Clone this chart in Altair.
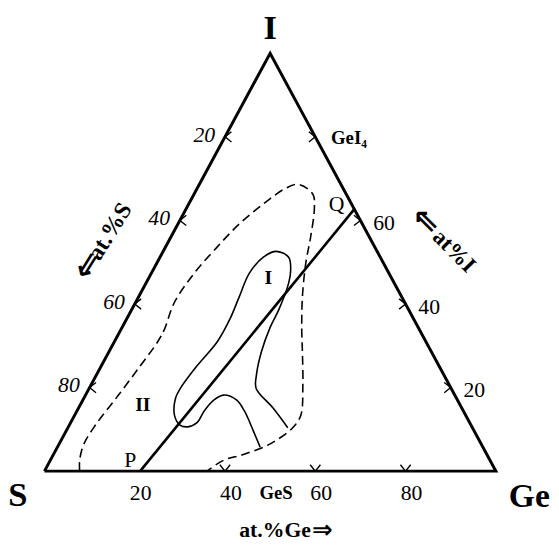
import altair as alt
import pandas as pd

# Compositions in at.% (Ge, I); S = 100 - Ge - I
tri_ge = [0, 100, 0, 0]
tri_i = [0, 0, 100, 0]

pq_ge = [21.2, 37.3]
pq_i = [0, 62.7]

# dashed boundary (II)
dash_ge = [7.8, 6.5, 5.5, 5.8, 7.3, 8.5, 9.6, 9.6, 8.6, 9.5, 11.4, 13.6, 16.5, 19.6, 22.0,
           26.3, 28.3, 31.0, 33.0, 36.3, 40.0, 42.9, 47.0, 50.1, 49.8, 46.6, 42.1, 38.4, 36.0]
dash_i = [0, 2.6, 6.4, 11.1, 18.2, 24.5, 30.9, 34.0, 40.3, 47.4, 53.5, 59.2, 63.9, 67.7, 68.6,
          66.3, 63.0, 55.9, 49.8, 41.7, 34.0, 28.5, 20.5, 13.4, 10.4, 6.4, 4.0, 2.6, 0]

# solid boundary (I)
sol_ge = [44.95, 41.4, 37.1, 34.1, 30.6, 29.0, 28.2, 28.0, 26.4, 24.4, 22.1, 20.3, 20.2, 21.2, 22.8,
          22.9, 22.3, 21.7, 22.9, 25.0, 28.5, 30.5, 31.6, 32.6, 32.8, 33.8, 35.5, 37.0, 43.1, 48.7]
sol_i = [5.7, 9.7, 14.4, 17.0, 18.2, 17.0, 14.4, 11.6, 10.6, 11.1, 13.4, 17.5, 19.8, 25.2, 30.9,
         36.3, 41.7, 47.4, 51.2, 52.6, 51.2, 48.1, 45.0, 38.7, 34.4, 28.5, 22.9, 19.8, 15.1, 10.4]

# ticks
left_tick_i = [80, 60, 40, 20]          # on S-I side (Ge = 0)
left_labels = ["20", "40", "60", "80"]  # at.% S
right_tick_i = [20, 40, 60, 80]         # on Ge-I side (S = 0)
right_labels = ["20", "40", "60", "GeI₄"]
bottom_tick_ge = [40, 60, 80]
bottom_label_ge = [20, 40, 60, 80]
bottom_labels = ["20", "40", "60", "80"]

W, H = 458, 424
FONT = "Liberation Serif"
ARROW_FONT = "DejaVu Sans"

xs = alt.Scale(domain=[0, 100], nice=False, zero=False)
ys = alt.Scale(domain=[0, 100], nice=False, zero=False)


def frame(ge, i, **extra):
    d = {"Ge": ge, "I": i, "idx": list(range(len(ge)))}
    d.update(extra)
    return pd.DataFrame(d)


def enc(chart):
    return chart.transform_calculate(
        x="datum.Ge + datum.I / 2", y="datum.I"
    ).encode(
        x=alt.X("x:Q", scale=xs, axis=None),
        y=alt.Y("y:Q", scale=ys, axis=None),
    )


def line(ge, i, **kw):
    return enc(alt.Chart(frame(ge, i)).mark_line(color="black", **kw)).encode(order="idx:Q")


def text(ge, i, labels, **kw):
    base = dict(font=FONT, color="black", align="center", baseline="middle")
    base.update(kw)
    return enc(alt.Chart(frame(ge, i, t=labels)).mark_text(**base)).encode(text="t:N")


def ticks(ge, i, shape):
    return enc(alt.Chart(frame(ge, i)).mark_point(
        shape=shape, filled=False, stroke="black", strokeWidth=1.4, size=170, opacity=1
    ))


layers = [
    line(tri_ge, tri_i, strokeWidth=3, strokeJoin="miter"),
    line(pq_ge, pq_i, strokeWidth=2.6),
    line(dash_ge, dash_i, strokeWidth=1.6, strokeDash=[9, 5], interpolate="catmull-rom"),
    line(sol_ge, sol_i, strokeWidth=1.6, interpolate="catmull-rom"),
    ticks([0] * len(left_tick_i), left_tick_i, "M 1 -0.8 L 0 0 L 1 0.8"),
    ticks([100 - v for v in right_tick_i], right_tick_i, "M -1 -0.8 L 0 0 L -1 0.8"),
    ticks(bottom_tick_ge, [0] * len(bottom_tick_ge), "M -0.8 -1 L 0 0 L 0.8 -1"),
    # tick labels
    text([0] * 4, left_tick_i, left_labels, align="right",
         dx=-10, dy=-2, fontSize=22, fontStyle="italic"),
    text([100 - v for v in right_tick_i[:3]], right_tick_i[:3], right_labels[:3],
         align="left", dx=13, dy=3, fontSize=22),
    text([100 - right_tick_i[3]], [right_tick_i[3]], [right_labels[3]],
         align="left", dx=16, dy=1, fontSize=19, fontWeight="bold"),
    text(bottom_label_ge, [0] * 4, bottom_labels, dx=6, dy=22, fontSize=22),
    text([50], [0], ["GeS"], dx=6, dy=22, fontSize=19, fontWeight="bold"),
    # vertices
    text([0], [0], ["S"], dx=-27, dy=24, fontSize=35, fontWeight="bold"),
    text([100], [0], ["Ge"], dx=34, dy=26, fontSize=34, fontWeight="bold"),
    text([0], [100], ["I"], baseline="alphabetic", dy=-14, fontSize=35, fontWeight="bold"),
    # axis titles
    text([50], [0], ["at.%Ge"], baseline="alphabetic", dx=5, dy=67,
         fontSize=22, fontWeight="bold"),
    text([50], [0], ["⇒"], dx=53, dy=60,
         font=ARROW_FONT, fontSize=25, fontWeight="bold"),
    text([0], [50], ["at.%S"], dx=1, dy=-57, angle=302, fontSize=24, fontWeight="bold"),
    text([0], [50], ["⇐"], dx=-40, dy=-58, angle=302, font=ARROW_FONT,
         fontSize=33, fontWeight="bold"),
    text([50], [50], ["at%I"], dx=43, dy=-59, angle=45, fontSize=23, fontWeight="bold"),
    text([50], [50], ["⇐"], dx=1, dy=-60, angle=45, font=ARROW_FONT,
         fontSize=33, fontWeight="bold"),
    # point and region labels
    text([pq_ge[0]], [pq_i[0]], ["P"], dx=-10, dy=-11, fontSize=22),
    text([pq_ge[1]], [pq_i[1]], ["Q"], dx=-18, dy=-5, fontSize=22),
    text([26.5], [46.2], ["I"], fontSize=20, fontWeight="bold"),
    text([13.9], [15.8], ["II"], fontSize=20, fontWeight="bold"),
]

chart = alt.layer(*layers).properties(
    width=W, height=H,
    autosize=alt.AutoSizeParams(type="none"),
    padding={"left": 37, "top": 42, "right": 56, "bottom": 72},
    background="white",
).configure_view(strokeWidth=0)

chart.save("out.html", embed_options={"renderer": "svg", "actions": False})
